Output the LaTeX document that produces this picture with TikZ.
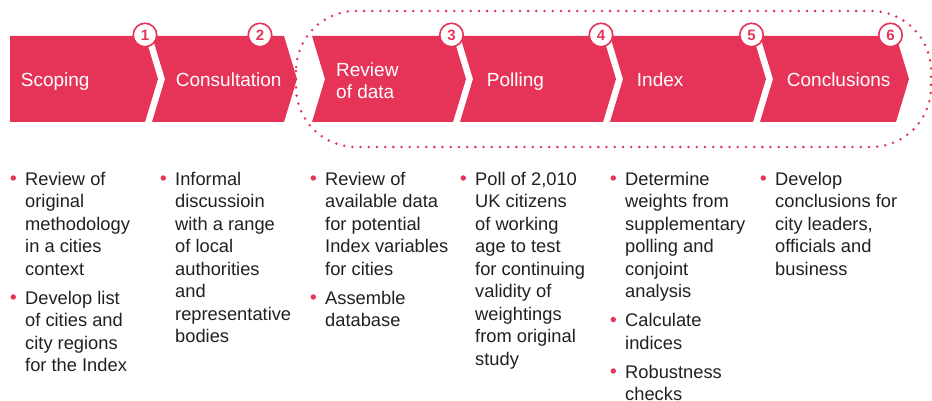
\documentclass[tikz,border=0pt]{standalone}
\usepackage{fontspec}
\setmainfont{Liberation Sans}
\definecolor{brandred}{HTML}{E63459}
\definecolor{bodyink}{HTML}{231F20}
\begin{document}
\begin{tikzpicture}[x=1pt,y=-1pt,
  chev/.style={fill=brandred,draw=none},
  title/.style={anchor=base west,inner sep=0pt,text=white,align=left,
    font={\fontsize{19}{22}\selectfont}},
  num/.style={circle,draw=brandred,line width=1.6pt,fill=white,minimum size=23.5pt,
    inner sep=0pt,text=brandred,font={\fontsize{15}{15}\selectfont\bfseries}},
  item/.style={anchor=base west,inner sep=0pt,text=bodyink,align=left,
    font={\fontsize{18.3}{22.5}\selectfont}},
  dot/.style={fill=brandred,draw=none},
  ring/.style={draw=brandred,line width=2.8pt,line cap=round,
    dash pattern=on 0pt off 8.2pt,rounded corners=60pt}]
\useasboundingbox (0,0) rectangle (932,401);
% chevrons
\fill[chev] (10,36) -- (145,36) -- (158,79) -- (145,122) -- (10,122) -- cycle;
\fill[chev] (152,36) -- (284,36) -- (297,79) -- (284,122) -- (152,122) -- (165,79) -- cycle;
\fill[chev] (312,36) -- (453,36) -- (466,79) -- (453,122) -- (312,122) -- (325,79) -- cycle;
\fill[chev] (460,36) -- (603,36) -- (616,79) -- (603,122) -- (460,122) -- (473,79) -- cycle;
\fill[chev] (610,36) -- (753,36) -- (766,79) -- (753,122) -- (610,122) -- (623,79) -- cycle;
\fill[chev] (760,36) -- (896,36) -- (909,79) -- (896,122) -- (760,122) -- (773,79) -- cycle;
% dotted grouping outline
\draw[ring] (296,11) rectangle (931,147);
% titles (anchor is the baseline of the last line)
\node[title] (t1) at (20.7,87) {Scoping};
\node[title] (t2) at (175.7,87) {Consultation};
\node[title] (t3) at (336,98.5) {Review\\of data};
\node[title] (t4) at (486.7,87) {Polling};
\node[title] (t5) at (636.7,87) {Index};
\node[title] (t6) at (786.7,87) {Conclusions};
% step numbers
\node[num] (n1) at (145,35) {1};
\node[num] (n2) at (260,35) {2};
\node[num] (n3) at (451.5,35) {3};
\node[num] (n4) at (601,35) {4};
\node[num] (n5) at (751.5,35) {5};
\node[num] (n6) at (890.5,35) {6};
% bullets (first-line baselines)
\foreach \bx/\by in {13.3/185,13.3/304,163.3/185,313.3/185,313.3/304,463.3/185,
  613.3/185,613.3/326.5,613.3/378,763.3/185}{
  \fill[dot] (\bx,\by-7) circle (2.7pt);
}
% column 1
\node[item] (c1a) at (25,275) {Review of\\original\\methodology\\in a cities\\context};
\node[item] (c1b) at (25,371.5) {Develop list\\of cities and\\city regions\\for the Index};
% column 2
\node[item] (c2a) at (175,342.5) {Informal\\discussioin\\with a range\\of local\\authorities\\and\\representative\\bodies};
% column 3
\node[item] (c3a) at (325,275) {Review of\\available data\\for potential\\Index variables\\for cities};
\node[item] (c3b) at (325,326.5) {Assemble\\database};
% column 4
\node[item] (c4a) at (475,365) {Poll of 2,010\\UK citizens\\of working\\age to test\\for continuing\\validity of\\weightings\\from original\\study};
% column 5
\node[item] (c5a) at (625,297.5) {Determine\\weights from\\supplementary\\polling and\\conjoint\\analysis};
\node[item] (c5b) at (625,349) {Calculate\\indices};
\node[item] (c5c) at (625,400.5) {Robustness\\checks};
% column 6
\node[item] (c6a) at (775,275) {Develop\\conclusions for\\city leaders,\\officials and\\business};
\end{tikzpicture}
\end{document}
